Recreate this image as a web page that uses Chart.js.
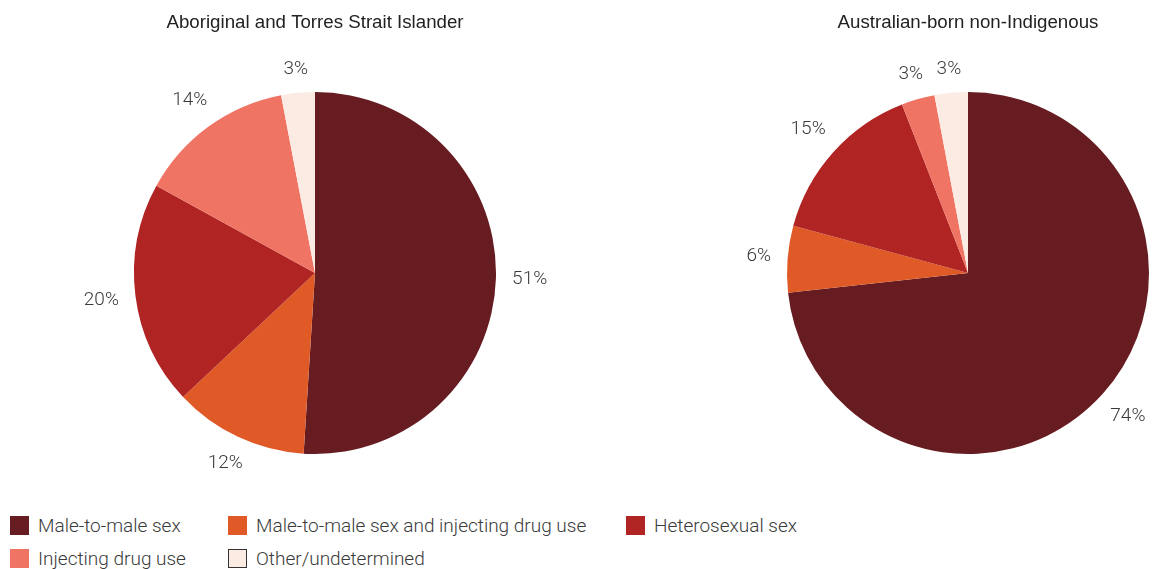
<!DOCTYPE html>
<html>
<head>
<meta charset="utf-8">
<script src="https://cdn.jsdelivr.net/npm/chart.js@4.4.1/dist/chart.umd.min.js"></script>
<style>
  html, body { margin: 0; padding: 0; background: #fff; }
  body { width: 1160px; height: 569px; position: relative; overflow: hidden;
         font-family: Roboto, "Liberation Sans", Arial, sans-serif; color: #333; }
  .pie { position: absolute; top: 0; height: 500px; }
  #leftBox { left: 0; width: 630px; }
  #rightBox { left: 580px; width: 580px; }
  #legend { position: absolute; left: 10px; top: 515.5px;
            display: grid; grid-template-columns: 218px 398px auto; row-gap: 13px; }
  .item { display: flex; align-items: center; font-size: 19px; font-weight: 300;
          color: #3a3a3a; line-height: 20px; height: 20px; }
  .swatch { width: 19px; height: 19px; margin-right: 9px; box-sizing: border-box; }
</style>
</head>
<body>
<div class="pie" id="leftBox"><canvas id="leftPie"></canvas></div>
<div class="pie" id="rightBox"><canvas id="rightPie"></canvas></div>
<div id="legend"></div>

<script>
var categories = [
  'Male-to-male sex',
  'Male-to-male sex and injecting drug use',
  'Heterosexual sex',
  'Injecting drug use',
  'Other/undetermined'
];
var indigenousValues = [51, 12, 20, 14, 3];
var nonIndigenousValues = [74, 6, 15, 3, 3];
var sliceColors = ['#661c20', '#e05a27', '#b02423', '#ef7464', '#fcebe3'];

// percentage labels sitting just outside each slice
var outsideLabels = {
  id: 'outsideLabels',
  afterDatasetsDraw: function(chart) {
    var ctx = chart.ctx;
    var meta = chart.getDatasetMeta(0);
    var values = chart.data.datasets[0].data;
    ctx.save();
    ctx.font = '300 19px Roboto, "Liberation Sans", Arial, sans-serif';
    ctx.fillStyle = '#3a3a3a';
    ctx.textAlign = 'center';
    ctx.textBaseline = 'middle';
    meta.data.forEach(function(arc, i) {
      var mid = (arc.startAngle + arc.endAngle) / 2;
      var txt = values[i] + '%';
      var w = ctx.measureText(txt).width;
      var cos = Math.cos(mid), sin = Math.sin(mid);
      var ext = Math.abs(cos) * w / 2 + Math.abs(sin) * 7;
      var r = arc.outerRadius + 16 + ext;
      ctx.fillText(txt, arc.x + cos * r, arc.y + sin * r);
    });
    ctx.restore();
  }
};

function makePie(canvasId, title, values, pad) {
  return new Chart(document.getElementById(canvasId), {
    type: 'pie',
    data: {
      labels: categories,
      datasets: [{
        data: values,
        backgroundColor: sliceColors,
        borderWidth: 0,
        hoverOffset: 0
      }]
    },
    options: {
      responsive: true,
      maintainAspectRatio: false,
      animation: false,
      events: [],
      layout: { padding: pad },
      plugins: {
        legend: { display: false },
        tooltip: { enabled: false },
        title: {
          display: true,
          text: title,
          color: '#222',
          font: { family: '"Liberation Sans", Arial, sans-serif', size: 18.7, weight: 'normal', lineHeight: 1.2 },
          padding: { top: 11.8, bottom: 57.76 }
        }
      }
    },
    plugins: [outsideLabels]
  });
}

makePie('leftPie', 'Aboriginal and Torres Strait Islander', indigenousValues,
  { top: 0, bottom: 46, left: 0, right: 0 });
makePie('rightPie', 'Australian-born non-Indigenous', nonIndigenousValues,
  { top: 0, bottom: 46, left: 196, right: 0 });

// legend shared by both pies
var legend = document.getElementById('legend');
categories.forEach(function(name, i) {
  var item = document.createElement('div');
  item.className = 'item';
  var sw = document.createElement('span');
  sw.className = 'swatch';
  sw.style.background = sliceColors[i];
  if (i === 4) sw.style.border = '1.5px solid #333';
  item.appendChild(sw);
  item.appendChild(document.createTextNode(name));
  legend.appendChild(item);
});
</script>
</body>
</html>
